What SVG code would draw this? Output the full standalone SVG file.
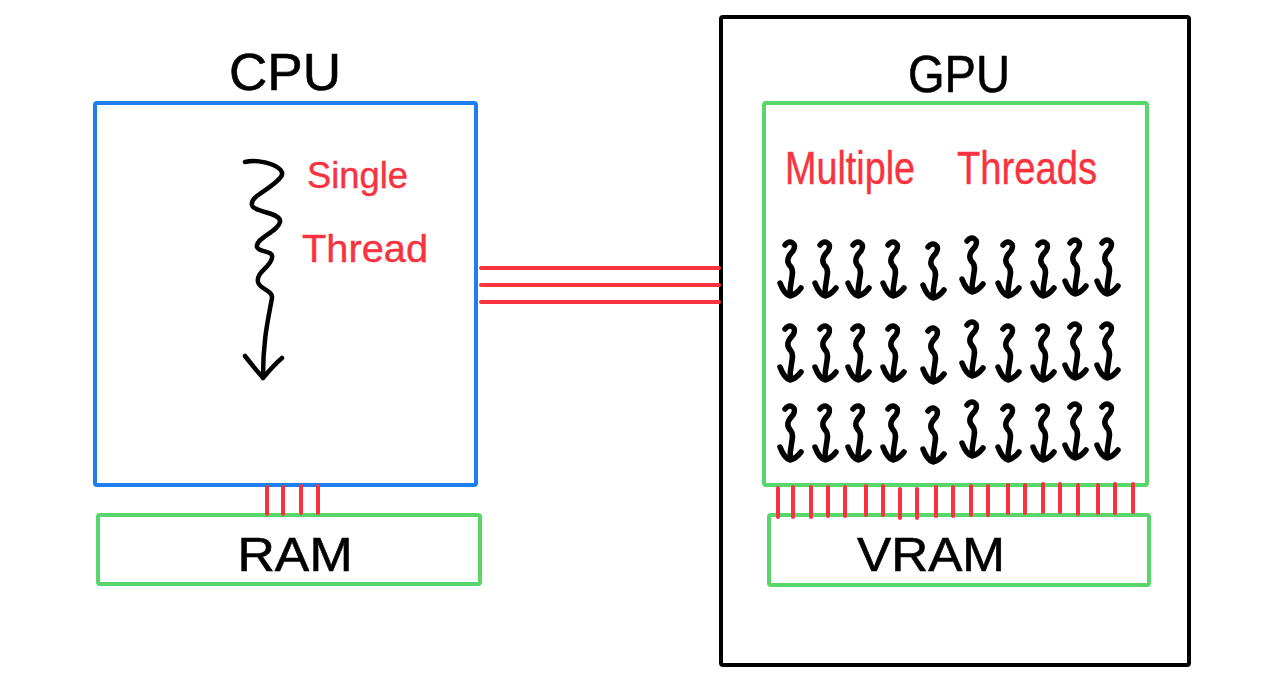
<svg xmlns="http://www.w3.org/2000/svg" xmlns:xlink="http://www.w3.org/1999/xlink" width="1277" height="698" viewBox="0 0 1277 698">
<style>
.bg{fill:#ffffff}
.box{fill:none;stroke-width:4;stroke-linejoin:round}
.blue{stroke:#1e7ef0}
.green{stroke:#57d66a}
.black{stroke:#000000}
.bus{stroke:#f8333f;stroke-width:4;stroke-linecap:round}
.lbl{font-family:"Liberation Sans",Arial,sans-serif;fill:#000;stroke:#000;stroke-width:0.6;text-anchor:middle}
.red{font-family:"Liberation Sans",Arial,sans-serif;fill:#f8333f;stroke:#f8333f;stroke-width:0.4}
.thr{fill:none;stroke:#000;stroke-width:5.5;stroke-linecap:round;stroke-linejoin:round}
</style>
<defs>
<path id="t" d="M -5,3 C -1,-3 8,1 3,9 C -3,15 -4,20 1,25 C 5,30 0,38 0,52 M -10,41 C -7,49 -3,53 0,54 C 4,53 8,50 11,46"/>
</defs>
<rect class="bg" x="0" y="0" width="1277" height="698"/>

<g id="cpu">
<rect class="box blue" x="95" y="103" width="381" height="382" rx="2"/>
<text class="lbl" x="285" y="90" font-size="52" textLength="112" lengthAdjust="spacingAndGlyphs">CPU</text>
<path class="thr" style="stroke-width:4.5" d="M 245,162 C 262,158 290,168 280,178 C 270,190 250,196 252,205 C 254,213 282,212 280,222 C 278,232 255,238 257,247 C 259,253 274,250 272,258 C 270,268 256,272 258,282 C 260,290 273,290 272,298 C 268,320 263,340 263,377 M 245,356 C 252,365 258,372 263,378 C 268,372 275,364 282,358"/>
<text class="red" x="307" y="188" font-size="36" textLength="101" lengthAdjust="spacingAndGlyphs">Single</text>
<text class="red" x="302" y="262" font-size="38" textLength="126" lengthAdjust="spacingAndGlyphs">Thread</text>
</g>

<g id="ram">
<rect class="box green" x="98" y="515" width="382" height="69" rx="2"/>
<text class="lbl" x="295" y="571" font-size="48" textLength="115" lengthAdjust="spacingAndGlyphs">RAM</text>
</g>

<g id="gpu">
<rect class="box black" x="721" y="17" width="468" height="648" rx="2"/>
<text class="lbl" x="959" y="92" font-size="52" textLength="102" lengthAdjust="spacingAndGlyphs">GPU</text>
</g>

<g id="gpu-cores">
<rect class="box green" x="764" y="103" width="383" height="382" rx="2"/>
<text class="red" x="785" y="184" font-size="46" textLength="130" lengthAdjust="spacingAndGlyphs">Multiple</text>
<text class="red" x="957" y="184" font-size="46" textLength="140" lengthAdjust="spacingAndGlyphs">Threads</text>
<g id="threads">
<use xlink:href="#t" href="#t" class="thr" x="790" y="242"/>
<use xlink:href="#t" href="#t" class="thr" x="825" y="242"/>
<use xlink:href="#t" href="#t" class="thr" x="858" y="242"/>
<use xlink:href="#t" href="#t" class="thr" x="893" y="242"/>
<use xlink:href="#t" href="#t" class="thr" x="933" y="244"/>
<use xlink:href="#t" href="#t" class="thr" x="972" y="238"/>
<use xlink:href="#t" href="#t" class="thr" x="1008" y="242"/>
<use xlink:href="#t" href="#t" class="thr" x="1043" y="242"/>
<use xlink:href="#t" href="#t" class="thr" x="1075" y="240"/>
<use xlink:href="#t" href="#t" class="thr" x="1107" y="240"/>

<use xlink:href="#t" href="#t" class="thr" x="790" y="326"/>
<use xlink:href="#t" href="#t" class="thr" x="825" y="326"/>
<use xlink:href="#t" href="#t" class="thr" x="858" y="326"/>
<use xlink:href="#t" href="#t" class="thr" x="893" y="326"/>
<use xlink:href="#t" href="#t" class="thr" x="933" y="328"/>
<use xlink:href="#t" href="#t" class="thr" x="972" y="322"/>
<use xlink:href="#t" href="#t" class="thr" x="1008" y="326"/>
<use xlink:href="#t" href="#t" class="thr" x="1043" y="326"/>
<use xlink:href="#t" href="#t" class="thr" x="1075" y="324"/>
<use xlink:href="#t" href="#t" class="thr" x="1107" y="324"/>

<use xlink:href="#t" href="#t" class="thr" x="790" y="406"/>
<use xlink:href="#t" href="#t" class="thr" x="825" y="406"/>
<use xlink:href="#t" href="#t" class="thr" x="858" y="406"/>
<use xlink:href="#t" href="#t" class="thr" x="893" y="406"/>
<use xlink:href="#t" href="#t" class="thr" x="933" y="408"/>
<use xlink:href="#t" href="#t" class="thr" x="972" y="402"/>
<use xlink:href="#t" href="#t" class="thr" x="1008" y="406"/>
<use xlink:href="#t" href="#t" class="thr" x="1043" y="406"/>
<use xlink:href="#t" href="#t" class="thr" x="1075" y="404"/>
<use xlink:href="#t" href="#t" class="thr" x="1107" y="404"/>
</g>
</g>

<g id="vram">
<rect class="box green" x="769" y="515" width="380" height="70" rx="2"/>
<text class="lbl" x="931" y="571" font-size="48" textLength="148" lengthAdjust="spacingAndGlyphs">VRAM</text>
</g>

<g id="connectors">
<g id="pcie-bus">
<line class="bus" x1="481" y1="268" x2="719" y2="268"/>
<line class="bus" x1="481" y1="285" x2="719" y2="285"/>
<line class="bus" x1="481" y1="302" x2="719" y2="302"/>
</g>
<g id="ram-bus">
<line class="bus" x1="267" y1="487" x2="267" y2="514"/>
<line class="bus" x1="283" y1="487" x2="283" y2="514"/>
<line class="bus" x1="301" y1="486" x2="301" y2="513"/>
<line class="bus" x1="318" y1="486" x2="318" y2="513"/>
</g>
<g id="vram-bus">
<line class="bus" x1="778" y1="488" x2="778" y2="517"/>
<line class="bus" x1="793" y1="487" x2="793" y2="517"/>
<line class="bus" x1="811" y1="487" x2="811" y2="517"/>
<line class="bus" x1="828" y1="487" x2="828" y2="516"/>
<line class="bus" x1="845" y1="487" x2="845" y2="516"/>
<line class="bus" x1="866" y1="486" x2="866" y2="515"/>
<line class="bus" x1="883" y1="486" x2="883" y2="515"/>
<line class="bus" x1="900" y1="489" x2="900" y2="518"/>
<line class="bus" x1="917" y1="489" x2="917" y2="518"/>
<line class="bus" x1="936" y1="487" x2="936" y2="516"/>
<line class="bus" x1="953" y1="487" x2="953" y2="516"/>
<line class="bus" x1="971" y1="486" x2="971" y2="515"/>
<line class="bus" x1="988" y1="486" x2="988" y2="515"/>
<line class="bus" x1="1008" y1="485" x2="1008" y2="513"/>
<line class="bus" x1="1025" y1="485" x2="1025" y2="513"/>
<line class="bus" x1="1043" y1="484" x2="1043" y2="512"/>
<line class="bus" x1="1060" y1="484" x2="1060" y2="512"/>
<line class="bus" x1="1078" y1="485" x2="1078" y2="514"/>
<line class="bus" x1="1098" y1="485" x2="1098" y2="513"/>
<line class="bus" x1="1115" y1="484" x2="1115" y2="513"/>
<line class="bus" x1="1133" y1="484" x2="1133" y2="512"/>
</g>
</g>
</svg>
